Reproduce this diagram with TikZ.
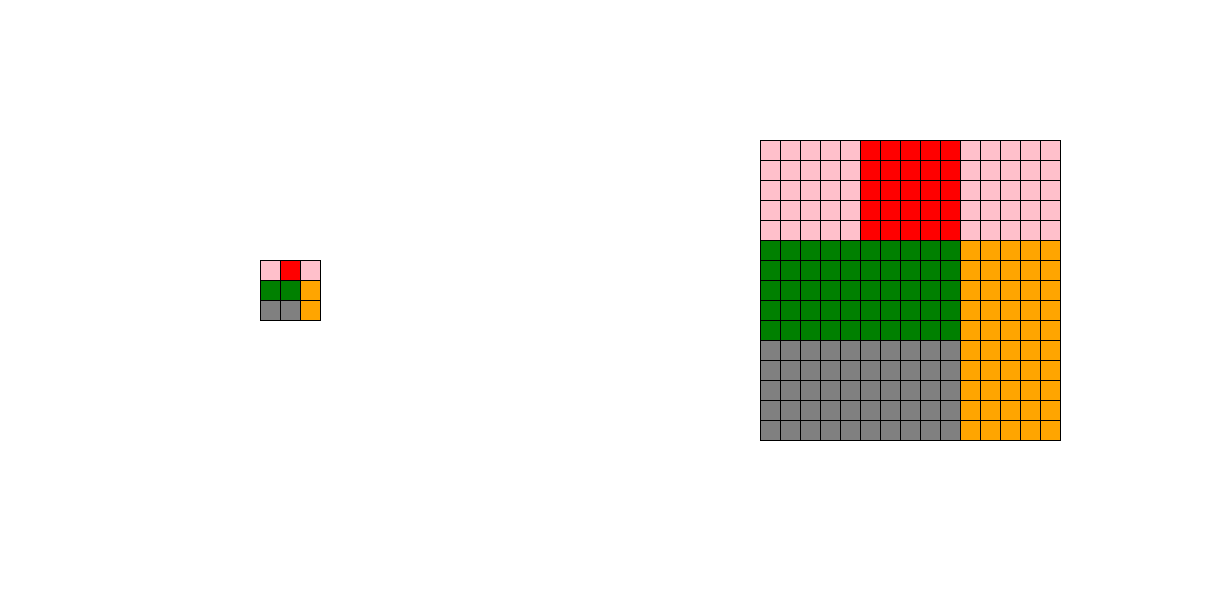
\documentclass[tikz,border=0pt]{standalone}
\usepackage{xcolor}
\definecolor{cpink}{RGB}{255,192,203}
\definecolor{cred}{RGB}{255,0,0}
\definecolor{cgreen}{RGB}{0,128,0}
\definecolor{corange}{RGB}{255,165,0}
\definecolor{cgray}{RGB}{128,128,128}
\begin{document}
\begin{tikzpicture}[x=0.5cm,y=-0.5cm,cell/.style={draw=black,line width=0.6pt}]
\useasboundingbox (0,0) rectangle (61,30);
% small grid
\foreach \c/\r/\col in {0/0/cpink,1/0/cred,2/0/cpink,0/1/cgreen,1/1/cgreen,2/1/corange,0/2/cgray,1/2/cgray,2/2/corange}{
  \path[cell,fill=\col] (13+\c,13+\r) rectangle ++(1,1);
}
% large grid
\foreach \r in {0,...,14}{
  \foreach \c in {0,...,14}{
    \pgfmathsetmacro{\rr}{int(\r/5)}
    \pgfmathsetmacro{\cc}{int(\c/5)}
    \ifnum\rr=0
      \ifnum\cc=1 \def\col{cred}\else\def\col{cpink}\fi
    \else
      \ifnum\cc=2 \def\col{corange}\else
        \ifnum\rr=1 \def\col{cgreen}\else\def\col{cgray}\fi
      \fi
    \fi
    \path[cell,fill=\col] (38+\c,7+\r) rectangle ++(1,1);
  }
}
\end{tikzpicture}
\end{document}
